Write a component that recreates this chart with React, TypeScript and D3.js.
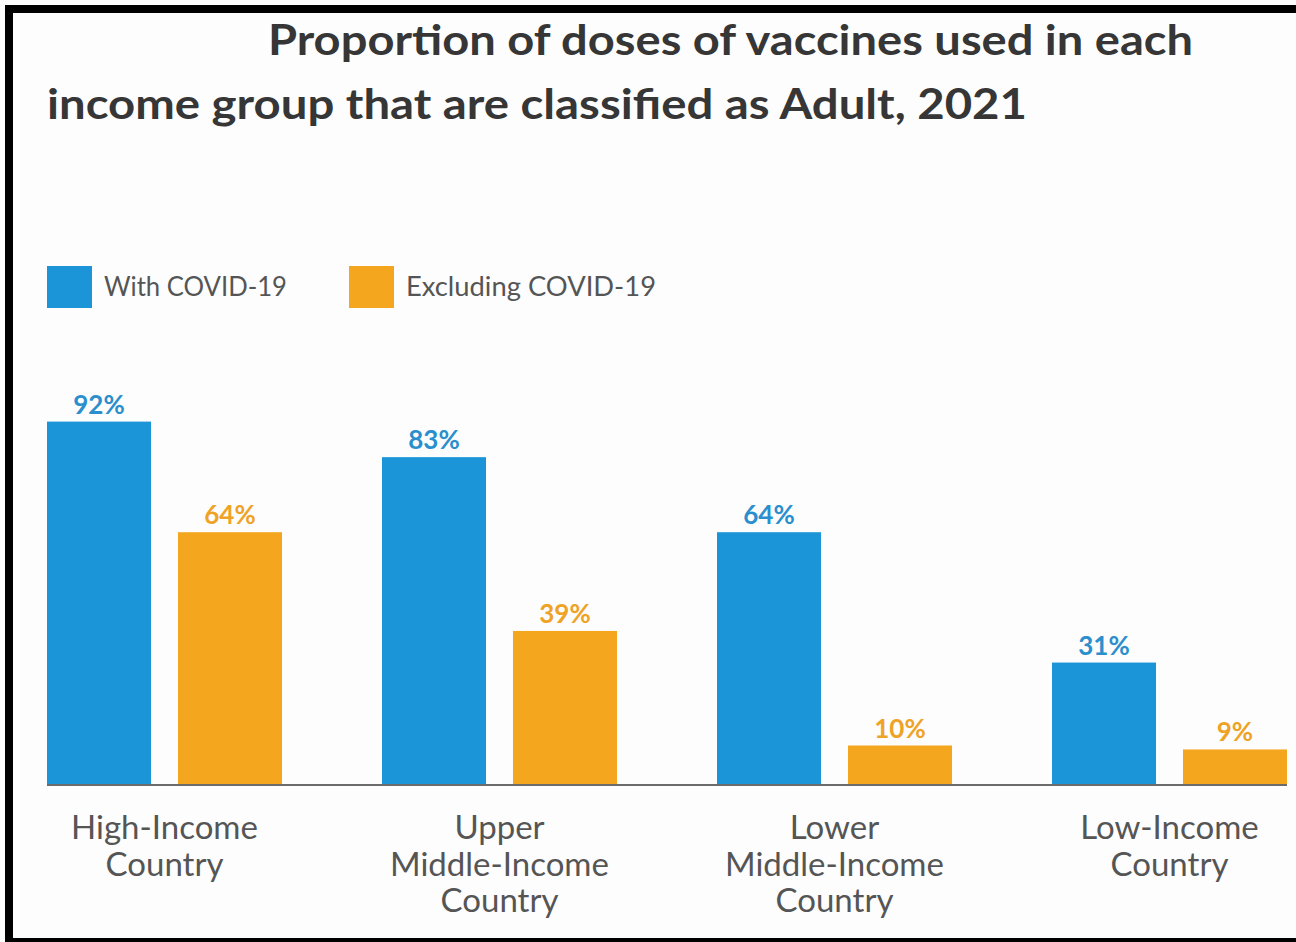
import React, { useEffect, useRef } from 'react';
import * as d3 from 'd3';

// data
const groups = ['High-Income Country', 'Upper Middle-Income Country', 'Lower Middle-Income Country', 'Low-Income Country'];
const groupLines = [
    ['High-Income', 'Country'],
    ['Upper', 'Middle-Income', 'Country'],
    ['Lower', 'Middle-Income', 'Country'],
    ['Low-Income', 'Country'],
];
const seriesNames = ['With COVID-19', 'Excluding COVID-19'];
const withCovid = [92, 83, 64, 31];
const excludingCovid = [64, 39, 10, 9];
const titleLines = ['Proportion of doses of vaccines used in each', 'income group that are classified as Adult, 2021'];

const W = 1296;
const H = 942;
const FONT = 'Lato, "Noto Sans", sans-serif';
const COLORS = ['#1b95d7', '#f4a61f'];
const LABEL_COLORS = ['#2a8fcc', '#eea327'];

const App: React.FC = () => {
    const svgRef = useRef<SVGSVGElement>(null);

    useEffect(() => {
        if (!svgRef.current) return;
        const svg = d3.select(svgRef.current);
        svg.selectAll('*').remove();

        svg.append('rect').attr('width', W).attr('height', H).attr('fill', '#fdfdfd');

        // frame (left, top, bottom)
        svg.append('rect').attr('x', 5).attr('y', 5).attr('width', W - 5).attr('height', 8).attr('fill', '#000');
        svg.append('rect').attr('x', 5).attr('y', 5).attr('width', 8).attr('height', H - 5).attr('fill', '#000');
        svg.append('rect').attr('x', 5).attr('y', 938).attr('width', W - 5).attr('height', 4).attr('fill', '#000');

        // title
        const titleX = [268, 47];
        const titleW = [925, 980];
        const titleY = [55, 119];
        titleLines.forEach((t, i) => {
            svg.append('text')
                .attr('x', titleX[i]).attr('y', titleY[i])
                .attr('textLength', titleW[i]).attr('lengthAdjust', 'spacingAndGlyphs')
                .text(t)
                .style('font-family', FONT).style('font-weight', 700)
                .style('font-size', '42px').style('fill', '#363636');
        });

        // legend
        const legendX = [47, 349];
        const legendW = [183, 250];
        seriesNames.forEach((s, i) => {
            svg.append('rect').attr('x', legendX[i]).attr('y', 266).attr('width', 45).attr('height', 42).attr('fill', COLORS[i]);
            svg.append('text')
                .attr('x', legendX[i] + 57).attr('y', 296)
                .attr('textLength', legendW[i]).attr('lengthAdjust', 'spacingAndGlyphs')
                .text(s)
                .style('font-family', FONT).style('font-size', '27px').style('fill', '#555');
        });

        const x0 = d3.scaleBand<string>().domain(groups).range([47, 1287]).paddingInner(0.2985).paddingOuter(0);
        const x1 = d3.scaleBand<string>().domain(seriesNames).range([0, x0.bandwidth()]).paddingInner(0.206).paddingOuter(0);
        const y = d3.scaleLinear().domain([0, 100]).range([785, 390]);

        const rows = groups.map((g, i) => ({ group: g, values: [withCovid[i], excludingCovid[i]] }));

        const gGroups = svg.selectAll('g.grp').data(rows).enter().append('g')
            .attr('transform', d => `translate(${x0(d.group)},0)`);

        gGroups.selectAll('rect')
            .data(d => d.values.map((v, k) => ({ key: seriesNames[k], k, v })))
            .enter().append('rect')
            .attr('x', d => x1(d.key)!)
            .attr('y', d => y(d.v))
            .attr('width', x1.bandwidth())
            .attr('height', d => y(0) - y(d.v))
            .attr('fill', d => COLORS[d.k]);

        gGroups.selectAll('text.val')
            .data(d => d.values.map((v, k) => ({ key: seriesNames[k], k, v })))
            .enter().append('text')
            .attr('x', d => x1(d.key)! + x1.bandwidth() / 2)
            .attr('y', d => y(d.v) - 8)
            .attr('text-anchor', 'middle')
            .text(d => `${d.v}%`)
            .style('font-family', FONT).style('font-weight', 700)
            .style('font-size', '26px').style('fill', d => LABEL_COLORS[d.k]);

        // baseline
        svg.append('line')
            .attr('x1', 47).attr('x2', 1287).attr('y1', y(0)).attr('y2', y(0))
            .attr('stroke', '#6b6b6b').attr('stroke-width', 2);

        // category labels
        groups.forEach((g, i) => {
            const cx = x0(g)! + x0.bandwidth() / 2;
            groupLines[i].forEach((line, j) => {
                svg.append('text')
                    .attr('x', cx).attr('y', 839 + j * 36.5)
                    .attr('text-anchor', 'middle')
                    .text(line)
                    .style('font-family', FONT).style('font-size', '33px').style('fill', '#555');
            });
        });
    }, []);

    return <svg ref={svgRef} width={W} height={H} style={{ position: 'absolute', left: 0, top: 0 }} />;
};

export default App;
